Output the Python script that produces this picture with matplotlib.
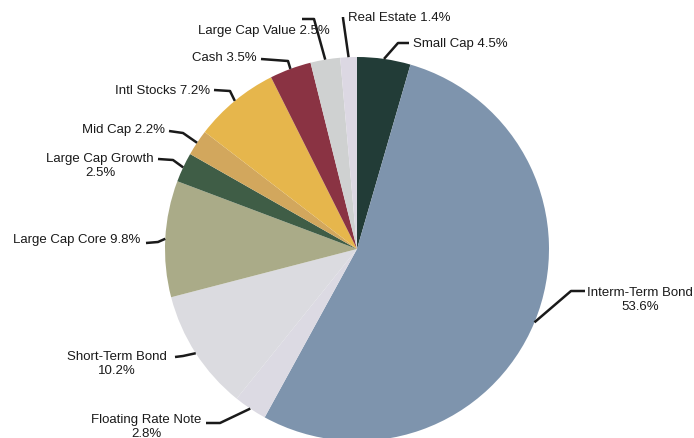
import numpy as np
import matplotlib
matplotlib.use("Agg")
from matplotlib import pyplot as plt

# data, clockwise from 12 o'clock
labels = ["Small Cap", "Interm-Term Bond", "Floating Rate Note", "Short-Term Bond",
          "Large Cap Core", "Large Cap Growth", "Mid Cap", "Intl Stocks", "Cash",
          "Large Cap Value", "Real Estate"]
values = [4.5, 53.6, 2.8, 10.2, 9.8, 2.5, 2.2, 7.2, 3.5, 2.5, 1.4]
two_line = [False, True, True, True, False, True, False, False, False, False, False]
colors = ["#223c37", "#7e94ad", "#dcdae3", "#dbdbe0", "#aaab88", "#3f5d46",
          "#d2a75d", "#e6b64c", "#8a3343", "#cfd1d1", "#dcd8e3"]

W, H = 694, 439
CX, CY, R = 357, 250, 192

# label layout in pixel coords (y down): text pos, alignment, line start, elbow
text_pos = [(413, 44), (640, 300), (146, 427), (117, 364), (140, 240), (100, 166),
            (165, 130), (210, 91), (257, 58), (330, 31), (348, 18)]
text_ha = ["left", "center", "center", "center", "right", "center",
           "right", "right", "right", "right", "left"]
line_start = [(409, 44), (585, 292), (206, 424), (175, 358), (146, 244), (158, 160),
              (169, 132), (214, 91), (261, 60), (302, 20), (343, 18)]
line_elbow = [(398, 44), (571, 292), (220, 424), (183, 357), (158, 243), (173, 161),
              (183, 134), (230, 92), (288, 62), (314, 20), (343, 19)]


def fy(y):
    return H - y


plt.rcParams["font.family"] = ["Liberation Sans", "DejaVu Sans"]
fig = plt.figure(figsize=(W / 100, H / 100), dpi=100)
ax = fig.add_axes([0, 0, 1, 1])

wedges, _ = ax.pie(values, colors=colors, startangle=90, counterclock=False,
                   center=(CX, fy(CY)), radius=R, frame=True,
                   wedgeprops=dict(linewidth=0))
ax.set_xlim(0, W)
ax.set_ylim(0, H)
ax.set_aspect("equal")
ax.axis("off")

for i, w in enumerate(wedges):
    mid = np.deg2rad((w.theta1 + w.theta2) / 2)
    px, py = CX + R * np.cos(mid), fy(CY) + R * np.sin(mid)
    sx, sy = line_start[i]
    ex, ey = line_elbow[i]
    ax.plot([sx, ex, px], [fy(sy), fy(ey), py], color="#1a1a1a", lw=1.8,
            solid_capstyle="butt")
    sep = "\n" if two_line[i] else " "
    txt = f"{labels[i]}{sep}{values[i]:.1f}%"
    tx, ty = text_pos[i]
    ax.text(tx, fy(ty), txt, ha=text_ha[i], va="center", fontsize=9.5,
            multialignment="center", color="#1a1a1a", linespacing=1.3)

fig.savefig("out.png", dpi=100)
